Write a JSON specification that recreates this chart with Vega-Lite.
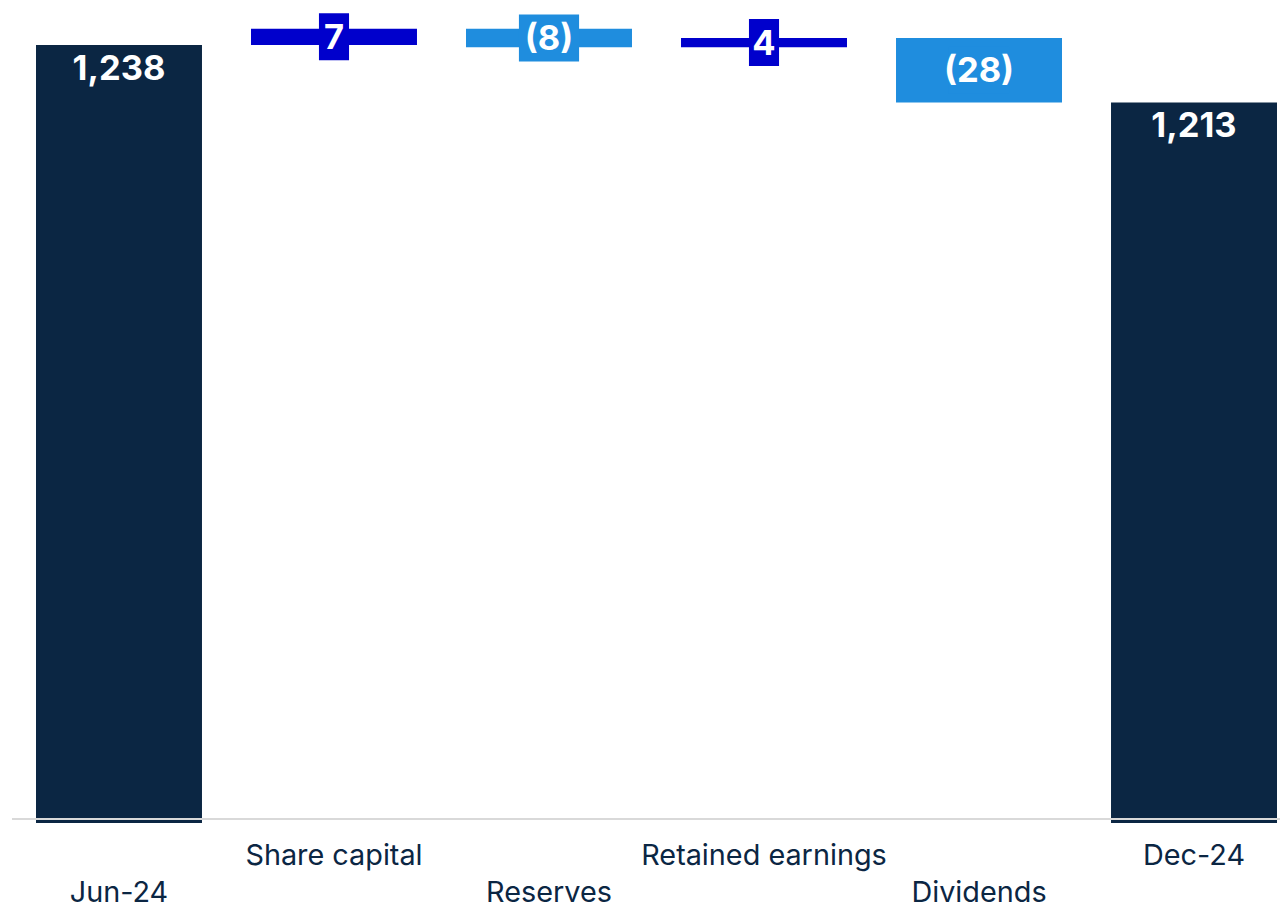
{
  "$schema": "https://vega.github.io/schema/vega-lite/v6.json",
  "width": 1268,
  "height": 823,
  "autosize": {"type": "none"},
  "padding": {"left": 12, "top": 0, "right": 0, "bottom": 85},
  "config": {"view": {"stroke": null}, "font": "Inter"},
  "data": {
    "values": [
      {"cat": "Jun-24", "start": 0, "end": 1238, "label": "1,238", "type": "total"},
      {"cat": "Share capital", "start": 1238, "end": 1245, "label": "7", "type": "increase"},
      {"cat": "Reserves", "start": 1245, "end": 1237, "label": "(8)", "type": "decrease"},
      {"cat": "Retained earnings", "start": 1237, "end": 1241, "label": "4", "type": "increase"},
      {"cat": "Dividends", "start": 1241, "end": 1213, "label": "(28)", "type": "decrease"},
      {"cat": "Dec-24", "start": 0, "end": 1213, "label": "1,213", "type": "total"}
    ]
  },
  "layer": [
    {
      "mark": {"type": "bar", "clip": true},
      "encoding": {
        "x": {
          "field": "cat", "type": "nominal", "sort": null,
          "scale": {"range": [24, 1265], "paddingInner": 0.228, "paddingOuter": 0},
          "axis": {
            "title": null, "domain": false, "ticks": false, "labelAngle": 0,
            "labelPadding": 18, "labelFontSize": 28.8, "labelColor": "#0B2643",
            "labelFont": "Inter", "labelLineHeight": 37, "labelLimit": 400,
            "labelOverlap": false, "labelBound": false,
            "labelExpr": "indexof(['Jun-24','Reserves','Dividends'], datum.value) >= 0 ? [' ', datum.label] : datum.label"
          }
        },
        "y": {"field": "start", "type": "quantitative", "scale": {"domain": [900, 1257.5], "nice": false, "zero": false}, "axis": null},
        "y2": {"field": "end"},
        "color": {"field": "type", "type": "nominal", "scale": {"domain": ["total", "increase", "decrease"], "range": ["#0B2643", "#0000CC", "#1F8DDE"]}, "legend": null}
      }
    },
    {
      "mark": {"type": "rule", "color": "#D9D9D9", "strokeWidth": 2, "yOffset": -4},
      "encoding": {"y": {"datum": 900, "type": "quantitative"}}
    },
    {
      "transform": [
        {"filter": "datum.type != 'total' && length(datum.label) == 1"},
        {"calculate": "(datum.start + datum.end) / 2", "as": "mid"}
      ],
      "mark": {"type": "point", "shape": "M-0.64,-1L0.64,-1L0.64,1L-0.64,1Z", "filled": true, "size": 2209, "opacity": 1, "strokeWidth": 0},
      "encoding": {
        "x": {"field": "cat", "type": "nominal", "sort": null},
        "y": {"field": "mid", "type": "quantitative"},
        "color": {"field": "type", "type": "nominal", "legend": null}
      }
    },
    {
      "transform": [
        {"filter": "datum.type != 'total' && length(datum.label) > 1"},
        {"calculate": "(datum.start + datum.end) / 2", "as": "mid"}
      ],
      "mark": {"type": "point", "shape": "M-1.28,-1L1.28,-1L1.28,1L-1.28,1Z", "filled": true, "size": 2209, "opacity": 1, "strokeWidth": 0},
      "encoding": {
        "x": {"field": "cat", "type": "nominal", "sort": null},
        "y": {"field": "mid", "type": "quantitative"},
        "color": {"field": "type", "type": "nominal", "legend": null}
      }
    },
    {
      "transform": [{"filter": "datum.type == 'total'"}],
      "mark": {"type": "text", "fontSize": 34.5, "fontWeight": "bold", "color": "white", "baseline": "middle", "align": "center", "dy": 25, "font": "Inter"},
      "encoding": {
        "x": {"field": "cat", "type": "nominal", "sort": null},
        "y": {"field": "end", "type": "quantitative"},
        "text": {"field": "label"}
      }
    },
    {
      "transform": [
        {"filter": "datum.type != 'total'"},
        {"calculate": "(datum.start + datum.end) / 2", "as": "mid"}
      ],
      "mark": {"type": "text", "fontSize": 34.5, "fontWeight": "bold", "color": "white", "baseline": "middle", "align": "center", "dy": 2, "font": "Inter"},
      "encoding": {
        "x": {"field": "cat", "type": "nominal", "sort": null},
        "y": {"field": "mid", "type": "quantitative"},
        "text": {"field": "label"}
      }
    }
  ]
}
